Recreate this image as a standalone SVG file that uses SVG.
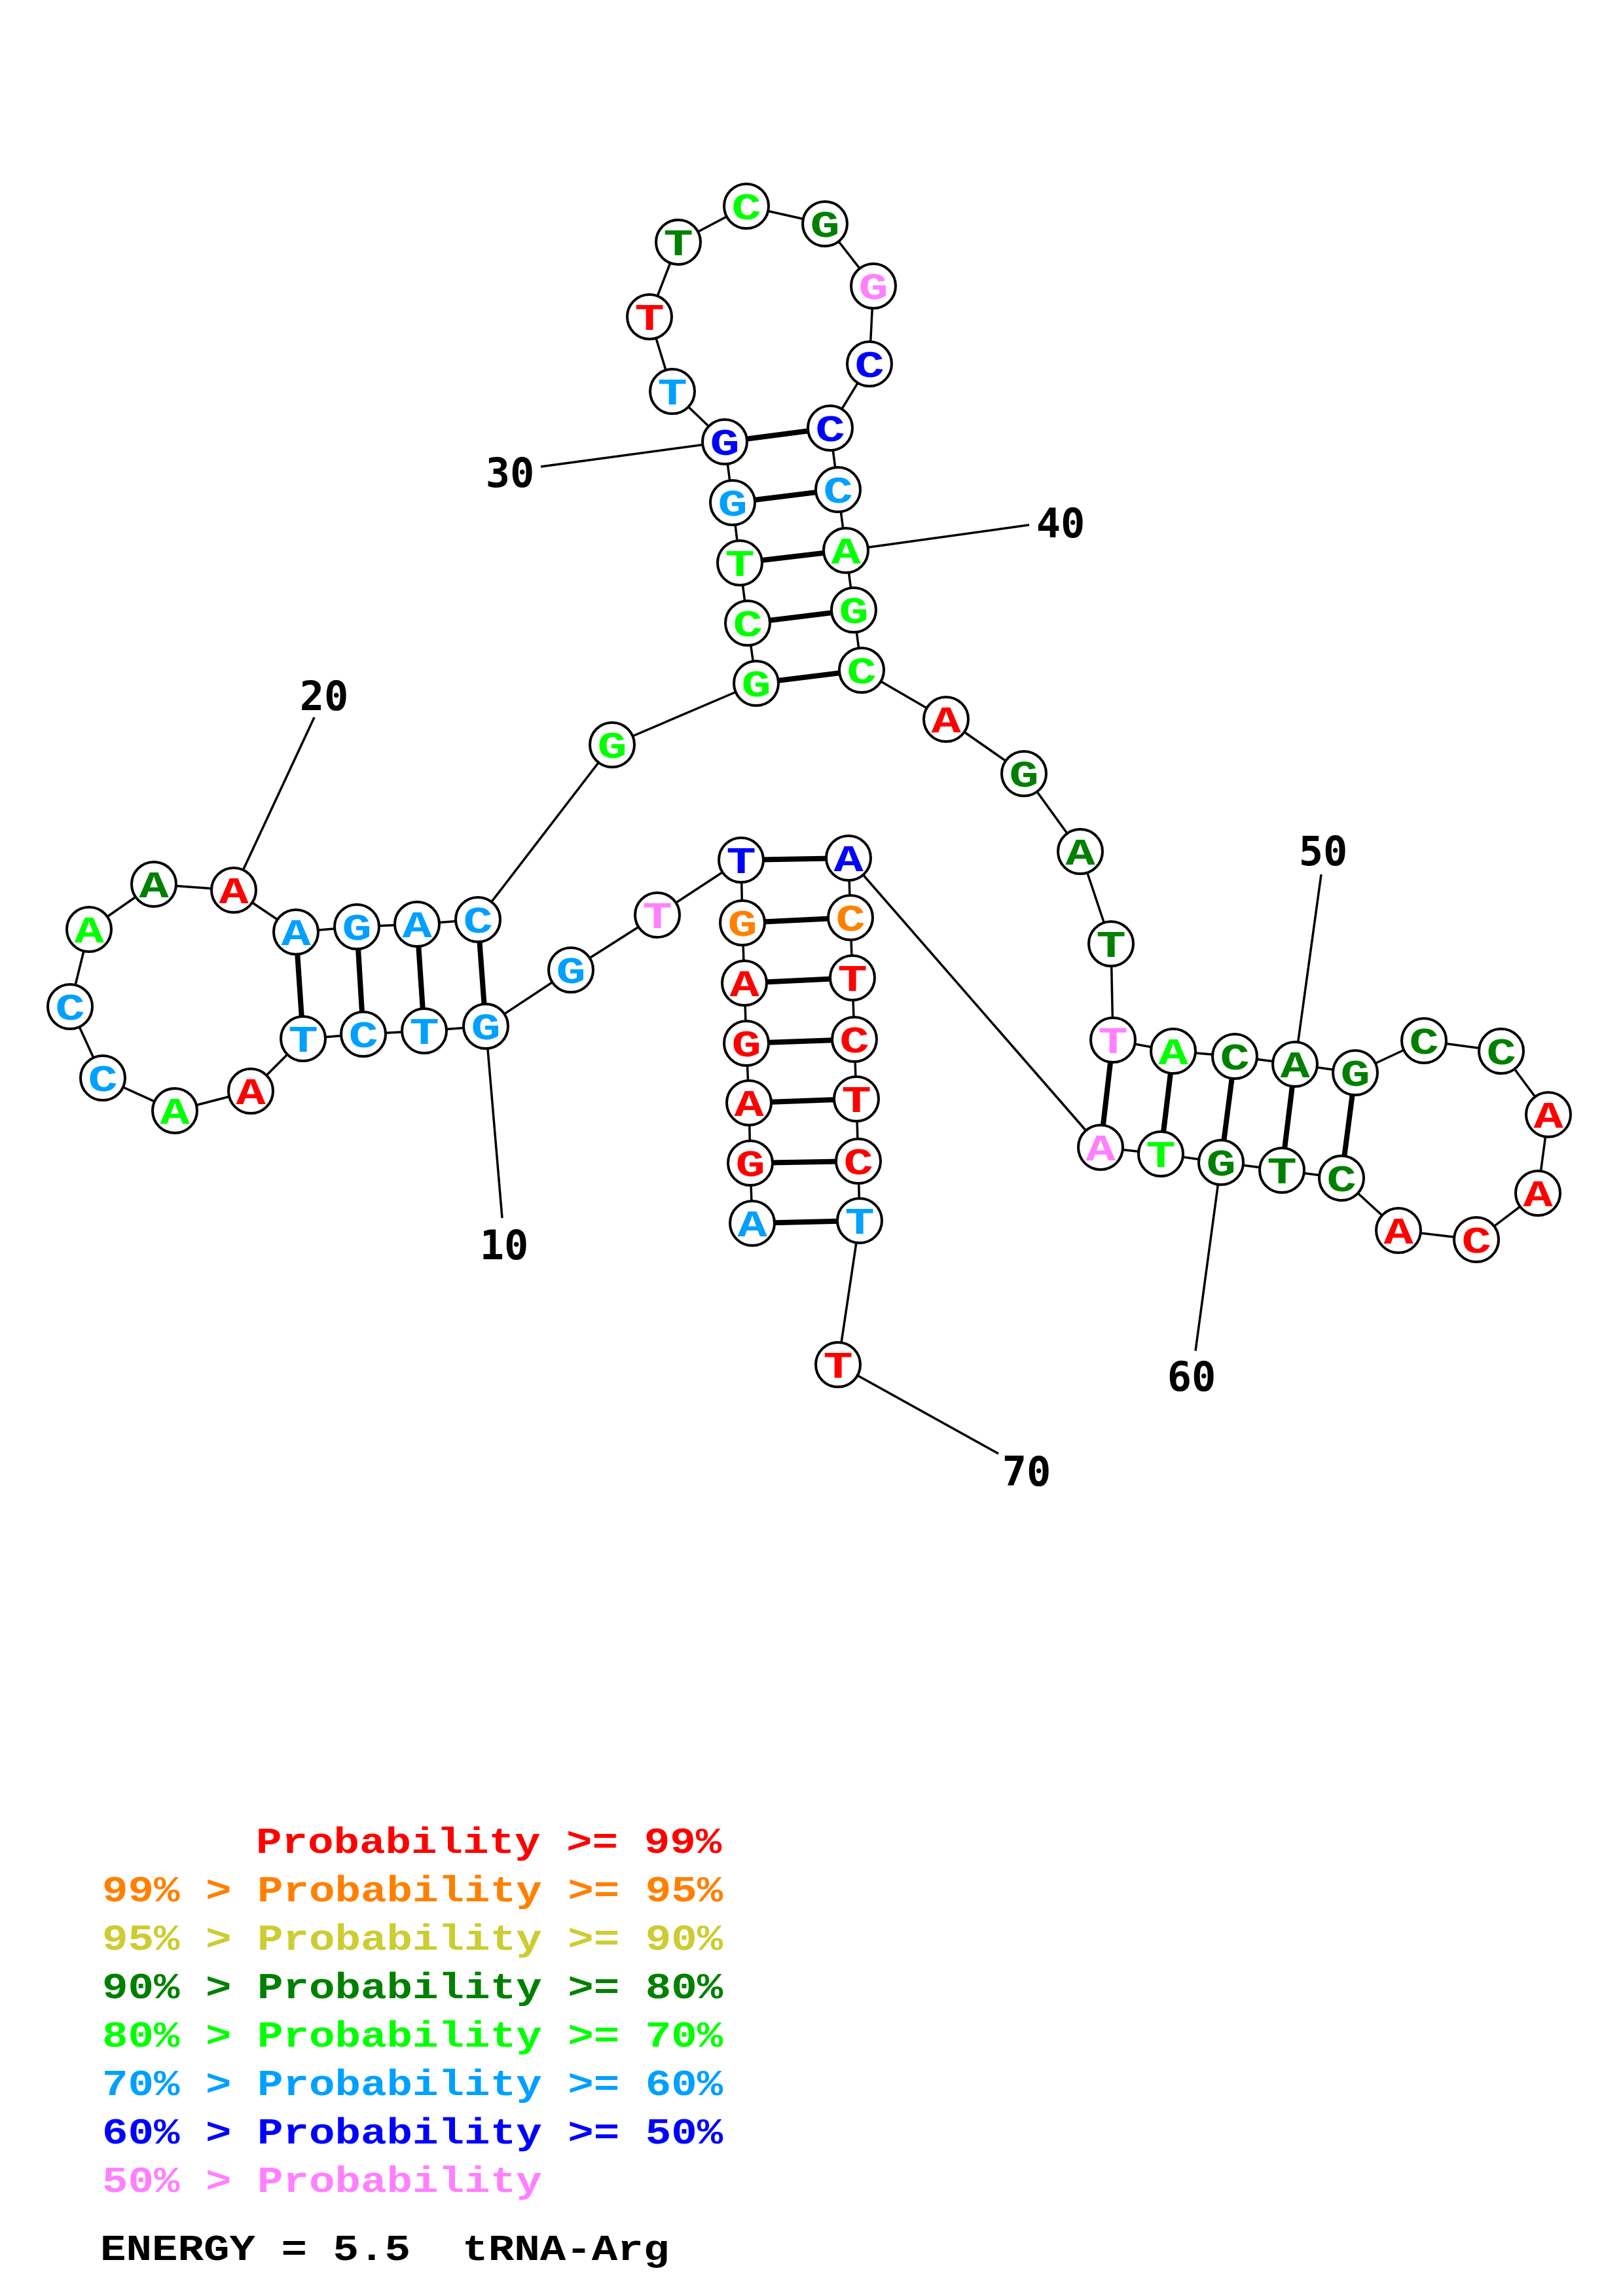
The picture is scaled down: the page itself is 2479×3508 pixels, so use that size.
<svg xmlns="http://www.w3.org/2000/svg" width="2479" height="3508" viewBox="0 0 2479 3508">
<style>
.bb{stroke:#000;stroke-width:3.5;fill:none}
.bp{stroke:#000;stroke-width:8;fill:none}
.lb-line{stroke:#000;stroke-width:3.5;fill:none}
.nd circle{fill:#fff;stroke:#000;stroke-width:4}
.nd text{font-family:"Liberation Mono",monospace;font-weight:bold;font-size:58px;text-anchor:middle}
.num{font-family:"DejaVu Sans Mono",monospace;font-weight:bold;font-size:62px;text-anchor:middle;fill:#000}
.leg{font-family:"Liberation Mono",monospace;font-weight:bold;font-size:56px;white-space:pre}
.r{fill:#FF0000}.o{fill:#FF8000}.y{fill:#CCCC33}.dg{fill:#008000}.g{fill:#00FF00}.lb{fill:#00A0FF}.b{fill:#0000FF}.p{fill:#FF80FF}.k{fill:#000}
</style>
<rect width="2479" height="3508" fill="#fff"/>
<g id="connectors">
<line class="bb" x1="1149" y1="1869" x2="1146" y2="1777"/>
<line class="bb" x1="1146" y1="1777" x2="1144" y2="1685"/>
<line class="bb" x1="1144" y1="1685" x2="1140" y2="1594"/>
<line class="bb" x1="1140" y1="1594" x2="1137" y2="1502"/>
<line class="bb" x1="1137" y1="1502" x2="1134" y2="1410"/>
<line class="bb" x1="1134" y1="1410" x2="1132" y2="1314"/>
<line class="bb" x1="1132" y1="1314" x2="1004" y2="1398"/>
<line class="bb" x1="1004" y1="1398" x2="872" y2="1482"/>
<line class="bb" x1="872" y1="1482" x2="742" y2="1568"/>
<line class="bb" x1="742" y1="1568" x2="648" y2="1575"/>
<line class="bb" x1="648" y1="1575" x2="555" y2="1580"/>
<line class="bb" x1="555" y1="1580" x2="463" y2="1587"/>
<line class="bb" x1="463" y1="1587" x2="383" y2="1667"/>
<line class="bb" x1="383" y1="1667" x2="267" y2="1697"/>
<line class="bb" x1="267" y1="1697" x2="157" y2="1647"/>
<line class="bb" x1="157" y1="1647" x2="107" y2="1538"/>
<line class="bb" x1="107" y1="1538" x2="136" y2="1420"/>
<line class="bb" x1="136" y1="1420" x2="235" y2="1351"/>
<line class="bb" x1="235" y1="1351" x2="357" y2="1360"/>
<line class="bb" x1="357" y1="1360" x2="452" y2="1424"/>
<line class="bb" x1="452" y1="1424" x2="545" y2="1416"/>
<line class="bb" x1="545" y1="1416" x2="637" y2="1412"/>
<line class="bb" x1="637" y1="1412" x2="730" y2="1405"/>
<line class="bb" x1="730" y1="1405" x2="935" y2="1138"/>
<line class="bb" x1="935" y1="1138" x2="1155" y2="1044"/>
<line class="bb" x1="1155" y1="1044" x2="1142" y2="952"/>
<line class="bb" x1="1142" y1="952" x2="1130" y2="860"/>
<line class="bb" x1="1130" y1="860" x2="1119" y2="768"/>
<line class="bb" x1="1119" y1="768" x2="1107" y2="675"/>
<line class="bb" x1="1107" y1="675" x2="1027" y2="598"/>
<line class="bb" x1="1027" y1="598" x2="992" y2="484"/>
<line class="bb" x1="992" y1="484" x2="1036" y2="370"/>
<line class="bb" x1="1036" y1="370" x2="1140" y2="315"/>
<line class="bb" x1="1140" y1="315" x2="1260" y2="342"/>
<line class="bb" x1="1260" y1="342" x2="1334" y2="437"/>
<line class="bb" x1="1334" y1="437" x2="1328" y2="556"/>
<line class="bb" x1="1328" y1="556" x2="1268" y2="654"/>
<line class="bb" x1="1268" y1="654" x2="1280" y2="748"/>
<line class="bb" x1="1280" y1="748" x2="1292" y2="841"/>
<line class="bb" x1="1292" y1="841" x2="1304" y2="932"/>
<line class="bb" x1="1304" y1="932" x2="1316" y2="1024"/>
<line class="bb" x1="1316" y1="1024" x2="1445" y2="1099"/>
<line class="bb" x1="1445" y1="1099" x2="1564" y2="1182"/>
<line class="bb" x1="1564" y1="1182" x2="1650" y2="1301"/>
<line class="bb" x1="1650" y1="1301" x2="1697" y2="1442"/>
<line class="bb" x1="1697" y1="1442" x2="1700" y2="1589"/>
<line class="bb" x1="1700" y1="1589" x2="1792" y2="1606"/>
<line class="bb" x1="1792" y1="1606" x2="1886" y2="1614"/>
<line class="bb" x1="1886" y1="1614" x2="1978" y2="1626"/>
<line class="bb" x1="1978" y1="1626" x2="2070" y2="1639"/>
<line class="bb" x1="2070" y1="1639" x2="2175" y2="1590"/>
<line class="bb" x1="2175" y1="1590" x2="2293" y2="1606"/>
<line class="bb" x1="2293" y1="1606" x2="2365" y2="1703"/>
<line class="bb" x1="2365" y1="1703" x2="2349" y2="1823"/>
<line class="bb" x1="2349" y1="1823" x2="2255" y2="1894"/>
<line class="bb" x1="2255" y1="1894" x2="2136" y2="1880"/>
<line class="bb" x1="2136" y1="1880" x2="2049" y2="1800"/>
<line class="bb" x1="2049" y1="1800" x2="1958" y2="1788"/>
<line class="bb" x1="1958" y1="1788" x2="1865" y2="1776"/>
<line class="bb" x1="1865" y1="1776" x2="1773" y2="1763"/>
<line class="bb" x1="1773" y1="1763" x2="1681" y2="1753"/>
<line class="bb" x1="1681" y1="1753" x2="1296" y2="1311"/>
<line class="bb" x1="1296" y1="1311" x2="1299" y2="1402"/>
<line class="bb" x1="1299" y1="1402" x2="1302" y2="1494"/>
<line class="bb" x1="1302" y1="1494" x2="1305" y2="1588"/>
<line class="bb" x1="1305" y1="1588" x2="1308" y2="1679"/>
<line class="bb" x1="1308" y1="1679" x2="1311" y2="1774"/>
<line class="bb" x1="1311" y1="1774" x2="1313" y2="1865"/>
<line class="bb" x1="1313" y1="1865" x2="1280" y2="2085"/>
<line class="bp" x1="1149" y1="1869" x2="1313" y2="1865"/>
<line class="bp" x1="1146" y1="1777" x2="1311" y2="1774"/>
<line class="bp" x1="1144" y1="1685" x2="1308" y2="1679"/>
<line class="bp" x1="1140" y1="1594" x2="1305" y2="1588"/>
<line class="bp" x1="1137" y1="1502" x2="1302" y2="1494"/>
<line class="bp" x1="1134" y1="1410" x2="1299" y2="1402"/>
<line class="bp" x1="1132" y1="1314" x2="1296" y2="1311"/>
<line class="bp" x1="742" y1="1568" x2="730" y2="1405"/>
<line class="bp" x1="648" y1="1575" x2="637" y2="1412"/>
<line class="bp" x1="555" y1="1580" x2="545" y2="1416"/>
<line class="bp" x1="463" y1="1587" x2="452" y2="1424"/>
<line class="bp" x1="1155" y1="1044" x2="1316" y2="1024"/>
<line class="bp" x1="1142" y1="952" x2="1304" y2="932"/>
<line class="bp" x1="1130" y1="860" x2="1292" y2="841"/>
<line class="bp" x1="1119" y1="768" x2="1280" y2="748"/>
<line class="bp" x1="1107" y1="675" x2="1268" y2="654"/>
<line class="bp" x1="1700" y1="1589" x2="1681" y2="1753"/>
<line class="bp" x1="1792" y1="1606" x2="1773" y2="1763"/>
<line class="bp" x1="1886" y1="1614" x2="1865" y2="1776"/>
<line class="bp" x1="1978" y1="1626" x2="1958" y2="1788"/>
<line class="bp" x1="2070" y1="1639" x2="2049" y2="1800"/>
<line class="lb-line" x1="742" y1="1568" x2="767" y2="1861"/>
<line class="lb-line" x1="357" y1="1360" x2="480" y2="1096"/>
<line class="lb-line" x1="1107" y1="675" x2="826" y2="713"/>
<line class="lb-line" x1="1292" y1="841" x2="1572" y2="802"/>
<line class="lb-line" x1="1978" y1="1626" x2="2018" y2="1336"/>
<line class="lb-line" x1="1865" y1="1776" x2="1826" y2="2064"/>
<line class="lb-line" x1="1280" y1="2085" x2="1525" y2="2221"/>
</g>
<g id="nodes">
<g id="n1" class="nd" transform="translate(1149,1869)"><circle r="34"/><text class="lb" y="20" transform="scale(1.3,1)">A</text></g>
<g id="n2" class="nd" transform="translate(1146,1777)"><circle r="34"/><text class="r" y="20" transform="scale(1.3,1)">G</text></g>
<g id="n3" class="nd" transform="translate(1144,1685)"><circle r="34"/><text class="r" y="20" transform="scale(1.3,1)">A</text></g>
<g id="n4" class="nd" transform="translate(1140,1594)"><circle r="34"/><text class="r" y="20" transform="scale(1.3,1)">G</text></g>
<g id="n5" class="nd" transform="translate(1137,1502)"><circle r="34"/><text class="r" y="20" transform="scale(1.3,1)">A</text></g>
<g id="n6" class="nd" transform="translate(1134,1410)"><circle r="34"/><text class="o" y="20" transform="scale(1.3,1)">G</text></g>
<g id="n7" class="nd" transform="translate(1132,1314)"><circle r="34"/><text class="b" y="20" transform="scale(1.3,1)">T</text></g>
<g id="n8" class="nd" transform="translate(1004,1398)"><circle r="34"/><text class="p" y="20" transform="scale(1.3,1)">T</text></g>
<g id="n9" class="nd" transform="translate(872,1482)"><circle r="34"/><text class="lb" y="20" transform="scale(1.3,1)">G</text></g>
<g id="n10" class="nd" transform="translate(742,1568)"><circle r="34"/><text class="lb" y="20" transform="scale(1.3,1)">G</text></g>
<g id="n11" class="nd" transform="translate(648,1575)"><circle r="34"/><text class="lb" y="20" transform="scale(1.3,1)">T</text></g>
<g id="n12" class="nd" transform="translate(555,1580)"><circle r="34"/><text class="lb" y="20" transform="scale(1.3,1)">C</text></g>
<g id="n13" class="nd" transform="translate(463,1587)"><circle r="34"/><text class="lb" y="20" transform="scale(1.3,1)">T</text></g>
<g id="n14" class="nd" transform="translate(383,1667)"><circle r="34"/><text class="r" y="20" transform="scale(1.3,1)">A</text></g>
<g id="n15" class="nd" transform="translate(267,1697)"><circle r="34"/><text class="g" y="20" transform="scale(1.3,1)">A</text></g>
<g id="n16" class="nd" transform="translate(157,1647)"><circle r="34"/><text class="lb" y="20" transform="scale(1.3,1)">C</text></g>
<g id="n17" class="nd" transform="translate(107,1538)"><circle r="34"/><text class="lb" y="20" transform="scale(1.3,1)">C</text></g>
<g id="n18" class="nd" transform="translate(136,1420)"><circle r="34"/><text class="g" y="20" transform="scale(1.3,1)">A</text></g>
<g id="n19" class="nd" transform="translate(235,1351)"><circle r="34"/><text class="dg" y="20" transform="scale(1.3,1)">A</text></g>
<g id="n20" class="nd" transform="translate(357,1360)"><circle r="34"/><text class="r" y="20" transform="scale(1.3,1)">A</text></g>
<g id="n21" class="nd" transform="translate(452,1424)"><circle r="34"/><text class="lb" y="20" transform="scale(1.3,1)">A</text></g>
<g id="n22" class="nd" transform="translate(545,1416)"><circle r="34"/><text class="lb" y="20" transform="scale(1.3,1)">G</text></g>
<g id="n23" class="nd" transform="translate(637,1412)"><circle r="34"/><text class="lb" y="20" transform="scale(1.3,1)">A</text></g>
<g id="n24" class="nd" transform="translate(730,1405)"><circle r="34"/><text class="lb" y="20" transform="scale(1.3,1)">C</text></g>
<g id="n25" class="nd" transform="translate(935,1138)"><circle r="34"/><text class="g" y="20" transform="scale(1.3,1)">G</text></g>
<g id="n26" class="nd" transform="translate(1155,1044)"><circle r="34"/><text class="g" y="20" transform="scale(1.3,1)">G</text></g>
<g id="n27" class="nd" transform="translate(1142,952)"><circle r="34"/><text class="g" y="20" transform="scale(1.3,1)">C</text></g>
<g id="n28" class="nd" transform="translate(1130,860)"><circle r="34"/><text class="g" y="20" transform="scale(1.3,1)">T</text></g>
<g id="n29" class="nd" transform="translate(1119,768)"><circle r="34"/><text class="lb" y="20" transform="scale(1.3,1)">G</text></g>
<g id="n30" class="nd" transform="translate(1107,675)"><circle r="34"/><text class="b" y="20" transform="scale(1.3,1)">G</text></g>
<g id="n31" class="nd" transform="translate(1027,598)"><circle r="34"/><text class="lb" y="20" transform="scale(1.3,1)">T</text></g>
<g id="n32" class="nd" transform="translate(992,484)"><circle r="34"/><text class="r" y="20" transform="scale(1.3,1)">T</text></g>
<g id="n33" class="nd" transform="translate(1036,370)"><circle r="34"/><text class="dg" y="20" transform="scale(1.3,1)">T</text></g>
<g id="n34" class="nd" transform="translate(1140,315)"><circle r="34"/><text class="g" y="20" transform="scale(1.3,1)">C</text></g>
<g id="n35" class="nd" transform="translate(1260,342)"><circle r="34"/><text class="dg" y="20" transform="scale(1.3,1)">G</text></g>
<g id="n36" class="nd" transform="translate(1334,437)"><circle r="34"/><text class="p" y="20" transform="scale(1.3,1)">G</text></g>
<g id="n37" class="nd" transform="translate(1328,556)"><circle r="34"/><text class="b" y="20" transform="scale(1.3,1)">C</text></g>
<g id="n38" class="nd" transform="translate(1268,654)"><circle r="34"/><text class="b" y="20" transform="scale(1.3,1)">C</text></g>
<g id="n39" class="nd" transform="translate(1280,748)"><circle r="34"/><text class="lb" y="20" transform="scale(1.3,1)">C</text></g>
<g id="n40" class="nd" transform="translate(1292,841)"><circle r="34"/><text class="g" y="20" transform="scale(1.3,1)">A</text></g>
<g id="n41" class="nd" transform="translate(1304,932)"><circle r="34"/><text class="g" y="20" transform="scale(1.3,1)">G</text></g>
<g id="n42" class="nd" transform="translate(1316,1024)"><circle r="34"/><text class="g" y="20" transform="scale(1.3,1)">C</text></g>
<g id="n43" class="nd" transform="translate(1445,1099)"><circle r="34"/><text class="r" y="20" transform="scale(1.3,1)">A</text></g>
<g id="n44" class="nd" transform="translate(1564,1182)"><circle r="34"/><text class="dg" y="20" transform="scale(1.3,1)">G</text></g>
<g id="n45" class="nd" transform="translate(1650,1301)"><circle r="34"/><text class="dg" y="20" transform="scale(1.3,1)">A</text></g>
<g id="n46" class="nd" transform="translate(1697,1442)"><circle r="34"/><text class="dg" y="20" transform="scale(1.3,1)">T</text></g>
<g id="n47" class="nd" transform="translate(1700,1589)"><circle r="34"/><text class="p" y="20" transform="scale(1.3,1)">T</text></g>
<g id="n48" class="nd" transform="translate(1792,1606)"><circle r="34"/><text class="g" y="20" transform="scale(1.3,1)">A</text></g>
<g id="n49" class="nd" transform="translate(1886,1614)"><circle r="34"/><text class="dg" y="20" transform="scale(1.3,1)">C</text></g>
<g id="n50" class="nd" transform="translate(1978,1626)"><circle r="34"/><text class="dg" y="20" transform="scale(1.3,1)">A</text></g>
<g id="n51" class="nd" transform="translate(2070,1639)"><circle r="34"/><text class="dg" y="20" transform="scale(1.3,1)">G</text></g>
<g id="n52" class="nd" transform="translate(2175,1590)"><circle r="34"/><text class="dg" y="20" transform="scale(1.3,1)">C</text></g>
<g id="n53" class="nd" transform="translate(2293,1606)"><circle r="34"/><text class="dg" y="20" transform="scale(1.3,1)">C</text></g>
<g id="n54" class="nd" transform="translate(2365,1703)"><circle r="34"/><text class="r" y="20" transform="scale(1.3,1)">A</text></g>
<g id="n55" class="nd" transform="translate(2349,1823)"><circle r="34"/><text class="r" y="20" transform="scale(1.3,1)">A</text></g>
<g id="n56" class="nd" transform="translate(2255,1894)"><circle r="34"/><text class="r" y="20" transform="scale(1.3,1)">C</text></g>
<g id="n57" class="nd" transform="translate(2136,1880)"><circle r="34"/><text class="r" y="20" transform="scale(1.3,1)">A</text></g>
<g id="n58" class="nd" transform="translate(2049,1800)"><circle r="34"/><text class="dg" y="20" transform="scale(1.3,1)">C</text></g>
<g id="n59" class="nd" transform="translate(1958,1788)"><circle r="34"/><text class="dg" y="20" transform="scale(1.3,1)">T</text></g>
<g id="n60" class="nd" transform="translate(1865,1776)"><circle r="34"/><text class="dg" y="20" transform="scale(1.3,1)">G</text></g>
<g id="n61" class="nd" transform="translate(1773,1763)"><circle r="34"/><text class="g" y="20" transform="scale(1.3,1)">T</text></g>
<g id="n62" class="nd" transform="translate(1681,1753)"><circle r="34"/><text class="p" y="20" transform="scale(1.3,1)">A</text></g>
<g id="n63" class="nd" transform="translate(1296,1311)"><circle r="34"/><text class="b" y="20" transform="scale(1.3,1)">A</text></g>
<g id="n64" class="nd" transform="translate(1299,1402)"><circle r="34"/><text class="o" y="20" transform="scale(1.3,1)">C</text></g>
<g id="n65" class="nd" transform="translate(1302,1494)"><circle r="34"/><text class="r" y="20" transform="scale(1.3,1)">T</text></g>
<g id="n66" class="nd" transform="translate(1305,1588)"><circle r="34"/><text class="r" y="20" transform="scale(1.3,1)">C</text></g>
<g id="n67" class="nd" transform="translate(1308,1679)"><circle r="34"/><text class="r" y="20" transform="scale(1.3,1)">T</text></g>
<g id="n68" class="nd" transform="translate(1311,1774)"><circle r="34"/><text class="r" y="20" transform="scale(1.3,1)">C</text></g>
<g id="n69" class="nd" transform="translate(1313,1865)"><circle r="34"/><text class="lb" y="20" transform="scale(1.3,1)">T</text></g>
<g id="n70" class="nd" transform="translate(1280,2085)"><circle r="34"/><text class="r" y="20" transform="scale(1.3,1)">T</text></g>
</g>
<g id="labels">
<text class="num" x="770" y="1924">10</text>
<text class="num" x="495" y="1085">20</text>
<text class="num" x="779" y="744">30</text>
<text class="num" x="1620" y="821">40</text>
<text class="num" x="2021" y="1322">50</text>
<text class="num" x="1820" y="2125">60</text>
<text class="num" x="1568" y="2270">70</text>
</g>
<g id="legend">
<text class="leg r" transform="translate(391,2831) scale(1.176,1)">Probability &gt;= 99%</text>
<text class="leg o" transform="translate(156,2905) scale(1.176,1)">99% &gt; Probability &gt;= 95%</text>
<text class="leg y" transform="translate(156,2979) scale(1.176,1)">95% &gt; Probability &gt;= 90%</text>
<text class="leg dg" transform="translate(156,3053) scale(1.176,1)">90% &gt; Probability &gt;= 80%</text>
<text class="leg g" transform="translate(156,3127) scale(1.176,1)">80% &gt; Probability &gt;= 70%</text>
<text class="leg lb" transform="translate(156,3201) scale(1.176,1)">70% &gt; Probability &gt;= 60%</text>
<text class="leg b" transform="translate(156,3275) scale(1.176,1)">60% &gt; Probability &gt;= 50%</text>
<text class="leg p" transform="translate(156,3349) scale(1.176,1)">50% &gt; Probability</text>
<text class="leg k" transform="translate(153,3453) scale(1.176,1)" xml:space="preserve">ENERGY = 5.5  tRNA-Arg</text>
</g>
</svg>
